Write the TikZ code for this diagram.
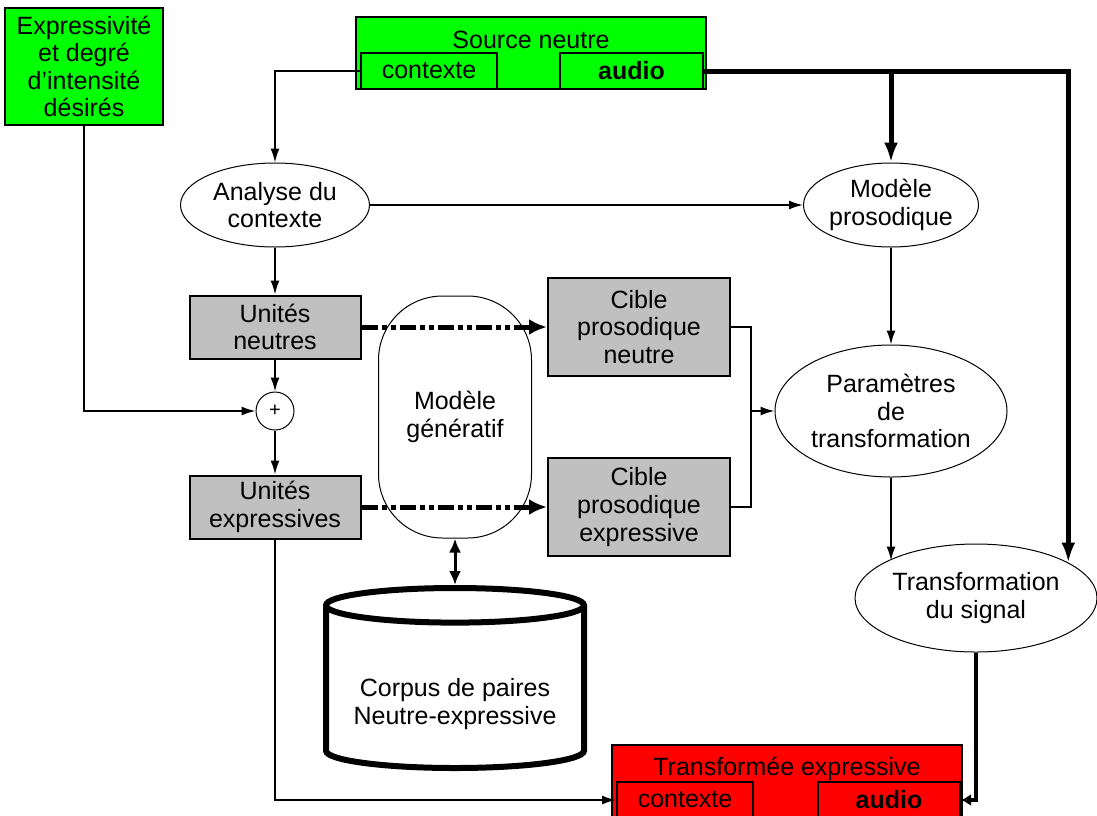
\documentclass[tikz,border=0pt]{standalone}
\usepackage{fontspec}
\setmainfont{Liberation Sans}
\usepackage{xcolor}
\usetikzlibrary{shapes,arrows,arrows.meta,positioning}
\definecolor{boxgreen}{RGB}{0,255,0}
\definecolor{boxred}{RGB}{255,0,0}
\definecolor{boxgray}{RGB}{192,192,192}

\begin{document}
\begin{tikzpicture}[x=0.5pt, y=-0.5pt, auto,
        every node/.style={font=\fontsize{12.5pt}{13.8pt}\selectfont, align=center}]
        \tikzstyle{block} = [rectangle, draw, line width=1pt, fill=boxgray,
            minimum width=85.5pt, minimum height=31.5pt, inner sep=1pt]
        \tikzstyle{target} = [block, minimum width=91pt, minimum height=49pt]
        \tikzstyle{bubble} = [ellipse, draw, line width=0.5pt, fill=white, inner sep=0pt]
        \tikzstyle{srcframe} = [rectangle, draw, line width=1pt, minimum width=175pt, minimum height=36pt]
        \tikzstyle{slot} = [rectangle, draw, line width=1pt, minimum height=18pt, inner sep=0pt]
        \tikzstyle{line} = [draw, line width=0.8pt, -{Latex[length=7pt,width=4.5pt]}]
        \tikzstyle{heavy} = [draw, line width=2.5pt, -{Latex[length=10pt,width=7pt]}]
        \tikzstyle{genline} = [draw, line width=2.5pt,
            dash pattern=on 8pt off 2pt on 2.5pt off 2pt on 2.5pt off 2pt,
            -{Latex[length=9pt,width=8pt]}]

        \useasboundingbox (0,0) rectangle (1097,815);

        \node [rectangle, draw, line width=1.2pt, fill=boxgreen, minimum width=79pt,
            minimum height=58.5pt, inner sep=0pt] (desir) at (84,66.5)
            {Expressivité\\et degré\\d’intensité\\désirés};

        % source and result
        \node [srcframe, fill=boxgreen] (src) at (531,53) {};
        \node (srctitle) at (531,40) {Source neutre};
        \node [slot, fill=boxgreen, minimum width=68pt] (sctx) at (429,71) {contexte};
        \node [slot, fill=boxgreen, minimum width=71.5pt] (saud) at (631.5,71) {\bfseries audio};
        \node [srcframe, fill=boxred] (out) at (787,781) {};
        \node (outtitle) at (787,769) {Transformée expressive};
        \node [slot, fill=boxred, minimum width=68pt] (octx) at (685,800) {contexte};
        \node [slot, fill=boxred, minimum width=71pt] (oaud) at (889,800) {\bfseries audio};

        \node [bubble, minimum width=94.5pt, minimum height=42pt] (ana) at (275,205) {Analyse du\\contexte};
        \node [bubble, right of=ana, node distance=308pt, minimum width=87.5pt,
            minimum height=42pt] (mod) {Modèle\\prosodique};
        \node [bubble, below of=mod, node distance=103pt, minimum width=116pt,
            minimum height=66pt] (par) {Paramètres\\de\\transformation};
        \node [bubble, minimum width=121pt, minimum height=54pt] (trans) at (976,598) {Transformation\\du signal};

        \node [block, below of=ana, node distance=61pt] (uneu) {Unités\\neutres};
        \node [circle, draw, line width=0.5pt, minimum size=19pt, inner sep=0pt,
            font=\fontsize{10pt}{11pt}\selectfont, below of=uneu, node distance=42pt] (plus) {+};
        \node [block, below of=plus, node distance=48pt] (uexp) {Unités\\expressives};
        \node [target, right of=uneu, node distance=182pt] (cneu) {Cible\\prosodique\\neutre};
        \node [target, right of=uexp, node distance=182pt] (cexp) {Cible\\prosodique\\expressive};

        \node [rectangle, draw, line width=0.5pt, rounded corners=32pt, minimum width=76.5pt,
            minimum height=121pt] (genr) at (455,417) {Modèle\\génératif};
        \node [cylinder, shape border rotate=90, draw, line width=3pt, aspect=0.16,
            minimum width=129pt, minimum height=90pt, anchor=shape center] (corp) at (455,678)
            {\rule{0pt}{22pt}Corpus de paires\\Neutre-expressive};

        % connectors
        \path [line] (sctx.west) -| (ana.north);
        \path [line] (ana.east) -- (mod.west);
        \coordinate (split) at (mod.north |- saud.east);
        \path [heavy] (saud.east) -| (trans.21);
        \path [heavy] (split) -- (mod.north);
        \path [line] (ana.south) -- (uneu.north);
        \path [line] (uneu.south) -- (plus.north);
        \path [line] (desir.south) |- (plus.west);
        \path [line] (plus.south) -- (uexp.north);
        \path [genline] (uneu.east) -- (cneu.west);
        \path [genline] (uexp.east) -- (cexp.west);
        \path [draw, line width=1.5pt, {Latex[length=7pt,width=6pt]}-{Latex[length=7pt,width=6pt]}]
            (genr.south) -- (corp.north);
        \coordinate (merge) at (751,411);
        \path [draw, line width=1pt] (cneu.east) -| (merge);
        \path [draw, line width=1pt] (cexp.east) -| (merge);
        \path [line] (merge) -- (par.west);
        \path [line] (mod.south) -- (par.north);
        \path [line] (par.south) -- (par.south |- trans.157);
        \path [draw, line width=2pt, -{Latex[length=5pt,width=6pt]}] (trans.south) |- (oaud.east);
        \path [line] (uexp.south) |- (octx.west);
\end{tikzpicture}
\end{document}
